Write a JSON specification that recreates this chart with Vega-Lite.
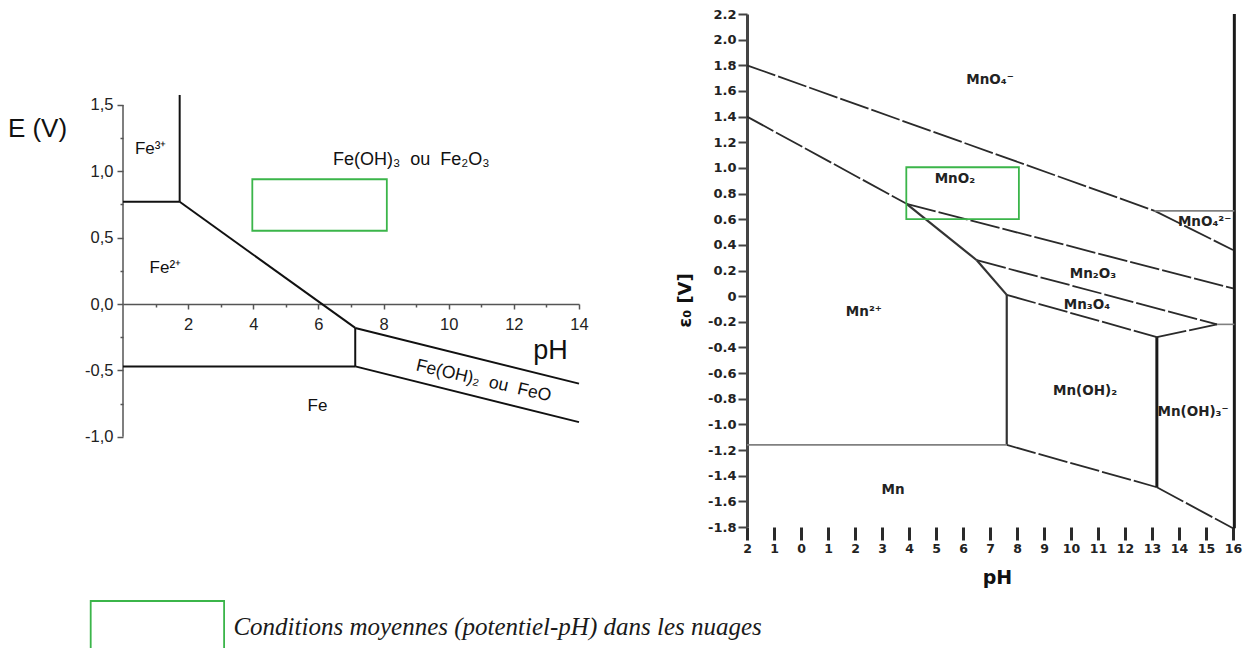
{
  "$schema": "https://vega.github.io/schema/vega-lite/v6.json",
  "background": "white",
  "padding": {"left": 7, "top": 8, "right": 5, "bottom": 0},
  "autosize": {"type": "pad"},
  "bounds": "flush",
  "spacing": 168,
  "config": {
    "view": {"stroke": null},
    "axis": {"grid": false, "labelFlush": false, "labelOverlap": false}
  },
  "datasets": {
    "fe_lines": [
      {"pH": 0, "E": 0.77, "pH2": 1.74, "E2": 0.77},
      {"pH": 1.74, "E": 1.575, "pH2": 1.74, "E2": 0.77},
      {"pH": 1.74, "E": 0.77, "pH2": 7.13, "E2": -0.18},
      {"pH": 7.13, "E": -0.18, "pH2": 14, "E2": -0.6},
      {"pH": 7.13, "E": -0.18, "pH2": 7.13, "E2": -0.47},
      {"pH": 0, "E": -0.47, "pH2": 7.13, "E2": -0.47},
      {"pH": 7.13, "E": -0.47, "pH2": 14, "E2": -0.89}
    ],
    "fe_axis": [{"pH": 0, "E": -1.0, "pH2": 0, "E2": 1.5}],
    "fe_zone": [{"zone": "Conditions moyennes (potentiel-pH) dans les nuages", "pH": 3.97, "pH2": 8.1, "E": 0.552, "E2": 0.94}],
    "fe_labels": [
      {"label": "Fe³⁺", "pH": 0.85, "E": 1.17},
      {"label": "Fe²⁺", "pH": 1.3, "E": 0.27},
      {"label": "Fe", "pH": 5.97, "E": -0.77}
    ],
    "fe_labels_big": [
      {"label": "Fe(OH)₃\u00a0\u00a0ou\u00a0\u00a0Fe₂O₃", "pH": 8.85, "E": 1.085}
    ],
    "fe_labels_rot": [
      {"label": "Fe(OH)₂\u00a0\u00a0ou\u00a0\u00a0FeO", "pH": 11.07, "E": -0.58}
    ],
    "mn_dashed": [
      {"pH": -2, "E": 1.8, "pH2": 13.1, "E2": 0.665},
      {"pH": 13.1, "E": 0.665, "pH2": 16, "E2": 0.36},
      {"pH": -2, "E": 1.4, "pH2": 3.91, "E2": 0.72},
      {"pH": 3.91, "E": 0.72, "pH2": 16, "E2": 0.06},
      {"pH": 6.51, "E": 0.28, "pH2": 15.41, "E2": -0.22},
      {"pH": 7.62, "E": 0.01, "pH2": 13.18, "E2": -0.32},
      {"pH": 13.18, "E": -0.32, "pH2": 15.41, "E2": -0.22},
      {"pH": 7.62, "E": -1.16, "pH2": 13.18, "E2": -1.49},
      {"pH": 13.18, "E": -1.49, "pH2": 16, "E2": -1.81}
    ],
    "mn_solid": [
      {"pH": 3.91, "E": 0.72, "pH2": 6.51, "E2": 0.28},
      {"pH": 6.51, "E": 0.28, "pH2": 7.62, "E2": 0.01},
      {"pH": 7.62, "E": 0.01, "pH2": 7.62, "E2": -1.16}
    ],
    "mn_thick": [
      {"pH": 13.18, "E": -0.32, "pH2": 13.18, "E2": -1.49},
      {"pH": 16.05, "E": 2.2, "pH2": 16.05, "E2": -1.81}
    ],
    "mn_grey": [
      {"pH": -2, "E": -1.16, "pH2": 7.62, "E2": -1.16},
      {"pH": 13.1, "E": 0.665, "pH2": 16.05, "E2": 0.665},
      {"pH": 15.41, "E": -0.22, "pH2": 16.05, "E2": -0.22}
    ],
    "mn_zone": [{"zone": "Conditions moyennes (potentiel-pH) dans les nuages", "pH": 3.9, "pH2": 8.07, "E": 0.6, "E2": 1.005}],
    "mn_labels": [
      {"label": "MnO₄⁻", "pH": 7.0, "E": 1.685},
      {"label": "MnO₂", "pH": 5.7, "E": 0.913},
      {"label": "MnO₄²⁻", "pH": 14.95, "E": 0.578},
      {"label": "Mn₂O₃", "pH": 10.81, "E": 0.173},
      {"label": "Mn₃O₄", "pH": 10.59, "E": -0.069},
      {"label": "Mn²⁺", "pH": 2.33, "E": -0.124},
      {"label": "Mn(OH)₂", "pH": 10.52, "E": -0.74},
      {"label": "Mn(OH)₃⁻", "pH": 14.52, "E": -0.903},
      {"label": "Mn", "pH": 3.41, "E": -1.51}
    ]
  },
  "resolve": {"scale": {"stroke": "shared"}, "legend": {"stroke": "shared"}},
  "hconcat": [
    {
      "width": 456,
      "height": 513,
      "encoding": {
        "x": {
          "field": "pH", "type": "quantitative",
          "scale": {"domain": [0, 14], "nice": false, "zero": false},
          "axis": {
            "title": "pH", "titleFont": "Liberation Sans", "titleFontSize": 27, "titleFontWeight": "normal", "titleColor": "#111",
            "titleX": 427, "titleY": 46, "titleAlign": "center", "titleBaseline": "middle",
            "offset": -223,
            "values": [1, 2, 3, 4, 5, 6, 7, 8, 9, 10, 11, 12, 13, 14],
            "domainColor": "#555", "domainWidth": 1.5,
            "tickColor": "#555", "tickWidth": 1.5,
            "tickSize": {"condition": {"test": "datum.value % 2 === 0", "value": 5}, "value": 3},
            "labelExpr": "datum.value % 2 === 0 ? datum.label : ''",
            "labelFont": "Liberation Sans", "labelFontSize": 16.5, "labelColor": "#222", "labelPadding": 7
          }
        },
        "y": {
          "field": "E", "type": "quantitative",
          "scale": {"domain": [-1.68, 2.185], "nice": false, "zero": false},
          "axis": {
            "title": "E (V)", "titleAngle": 0, "titleX": -86, "titleY": 114, "titleAlign": "center", "titleBaseline": "middle",
            "titleFont": "Liberation Sans", "titleFontSize": 26, "titleFontWeight": "normal", "titleColor": "#111",
            "domain": false,
            "values": [-1, -0.75, -0.5, -0.25, 0, 0.25, 0.5, 0.75, 1, 1.25, 1.5],
            "tickColor": "#555", "tickWidth": 1.5,
            "tickSize": {"condition": {"test": "abs(datum.value*2 - round(datum.value*2)) < 0.001", "value": 6}, "value": 3},
            "labelExpr": "abs(datum.value*2 - round(datum.value*2)) < 0.001 ? (datum.value < 0 ? '-' : '') + replace(format(abs(datum.value), '.1f'), '.', ',') : ''",
            "labelFont": "Liberation Sans", "labelFontSize": 16.5, "labelColor": "#222", "labelPadding": 4
          }
        }
      },
      "layer": [
        {
          "data": {"name": "fe_axis"},
          "mark": {"type": "rule", "color": "#555", "strokeWidth": 1.5},
          "encoding": {"x2": {"field": "pH2"}, "y2": {"field": "E2"}}
        },
        {
          "data": {"name": "fe_lines"},
          "mark": {"type": "rule", "color": "#111", "strokeWidth": 2},
          "encoding": {"x2": {"field": "pH2"}, "y2": {"field": "E2"}}
        },
        {
          "data": {"name": "fe_zone"},
          "mark": {"type": "rect", "filled": false, "strokeWidth": 1.8},
          "encoding": {
            "x2": {"field": "pH2"}, "y2": {"field": "E2"},
            "stroke": {
              "field": "zone", "type": "nominal",
              "scale": {"range": ["#3bb54a"]},
              "legend": {
                "orient": "none", "legendX": -33.6, "legendY": 545, "title": null, "padding": 0,
                "symbolType": "M-1,-0.39H1V0.39H-1Z", "symbolSize": 17796, "symbolStrokeWidth": 1.8,
                "symbolFillColor": "transparent",
                "labelFont": "Liberation Serif", "labelFontStyle": "italic", "labelFontSize": 25,
                "labelColor": "#1a1a1a", "labelLimit": 0, "labelOffset": 8
              }
            }
          }
        },
        {
          "data": {"name": "fe_labels"},
          "mark": {"type": "text", "font": "Liberation Sans", "fontSize": 17, "color": "#111", "align": "center", "baseline": "middle"},
          "encoding": {"text": {"field": "label"}}
        },
        {
          "data": {"name": "fe_labels_big"},
          "mark": {"type": "text", "font": "Liberation Sans", "fontSize": 18, "color": "#111", "align": "center", "baseline": "middle"},
          "encoding": {"text": {"field": "label"}}
        },
        {
          "data": {"name": "fe_labels_rot"},
          "mark": {"type": "text", "font": "Liberation Sans", "fontSize": 17.5, "color": "#111", "align": "center", "baseline": "middle", "angle": 13},
          "encoding": {"text": {"field": "label"}}
        }
      ]
    },
    {
      "width": 486,
      "height": 513,
      "encoding": {
        "x": {
          "field": "pH", "type": "quantitative",
          "scale": {"domain": [-2, 16], "nice": false, "zero": false},
          "axis": {
            "title": "pH", "titleFont": "DejaVu Sans", "titleFontWeight": "bold", "titleFontSize": 19, "titleColor": "#111",
            "titleX": 250, "titleY": 50, "titleAlign": "center", "titleBaseline": "middle",
            "domain": false,
            "values": [-2, -1, 0, 1, 2, 3, 4, 5, 6, 7, 8, 9, 10, 11, 12, 13, 14, 15, 16],
            "tickColor": "#2a2a2a", "tickWidth": 3, "tickSize": 13,
            "labelExpr": "format(abs(datum.value), 'd')",
            "labelFont": "DejaVu Sans", "labelFontWeight": "bold", "labelFontSize": 12.5, "labelColor": "#222", "labelPadding": 2
          }
        },
        "y": {
          "field": "E", "type": "quantitative",
          "scale": {"domain": [-1.8, 2.2], "nice": false, "zero": false},
          "axis": {
            "title": "ε₀ [V]", "titleFont": "DejaVu Sans", "titleFontWeight": "bold", "titleFontSize": 18, "titleColor": "#111",
            "titleAngle": -90, "titleX": -62, "titleY": 286, "titleAlign": "center", "titleBaseline": "middle",
            "domainColor": "#444", "domainWidth": 3,
            "values": [-1.8, -1.6, -1.4, -1.2, -1.0, -0.8, -0.6, -0.4, -0.2, 0, 0.2, 0.4, 0.6, 0.8, 1.0, 1.2, 1.4, 1.6, 1.8, 2.0, 2.2],
            "tickColor": "#444", "tickWidth": 2, "tickSize": 9,
            "labelExpr": "abs(datum.value) < 0.001 ? '0' : (datum.value < 0 ? '-' : '') + format(abs(datum.value), '.1f')",
            "labelFont": "DejaVu Sans", "labelFontWeight": "bold", "labelFontSize": 13, "labelColor": "#222", "labelPadding": 2
          }
        }
      },
      "layer": [
        {
          "data": {"name": "mn_dashed"},
          "mark": {"type": "rule", "color": "#2a2a2a", "strokeWidth": 1.8, "strokeDash": [30, 3]},
          "encoding": {"x2": {"field": "pH2"}, "y2": {"field": "E2"}}
        },
        {
          "data": {"name": "mn_solid"},
          "mark": {"type": "rule", "color": "#333", "strokeWidth": 2.2},
          "encoding": {"x2": {"field": "pH2"}, "y2": {"field": "E2"}}
        },
        {
          "data": {"name": "mn_thick"},
          "mark": {"type": "rule", "color": "#1a1a1a", "strokeWidth": 3},
          "encoding": {"x2": {"field": "pH2"}, "y2": {"field": "E2"}}
        },
        {
          "data": {"name": "mn_grey"},
          "mark": {"type": "rule", "color": "#808080", "strokeWidth": 1.6},
          "encoding": {"x2": {"field": "pH2"}, "y2": {"field": "E2"}}
        },
        {
          "data": {"name": "mn_zone"},
          "mark": {"type": "rect", "filled": false, "strokeWidth": 1.8},
          "encoding": {
            "x2": {"field": "pH2"}, "y2": {"field": "E2"},
            "stroke": {
              "field": "zone", "type": "nominal",
              "scale": {"range": ["#3bb54a"]},
              "legend": {
                "orient": "none", "legendX": -33.6, "legendY": 545, "title": null, "padding": 0,
                "symbolType": "M-1,-0.39H1V0.39H-1Z", "symbolSize": 17796, "symbolStrokeWidth": 1.8,
                "symbolFillColor": "transparent",
                "labelFont": "Liberation Serif", "labelFontStyle": "italic", "labelFontSize": 25,
                "labelColor": "#1a1a1a", "labelLimit": 0, "labelOffset": 8
              }
            }
          }
        },
        {
          "data": {"name": "mn_labels"},
          "mark": {"type": "text", "font": "DejaVu Sans", "fontWeight": "bold", "fontSize": 13.5, "color": "#222", "align": "center", "baseline": "middle"},
          "encoding": {"text": {"field": "label"}}
        }
      ]
    }
  ]
}
